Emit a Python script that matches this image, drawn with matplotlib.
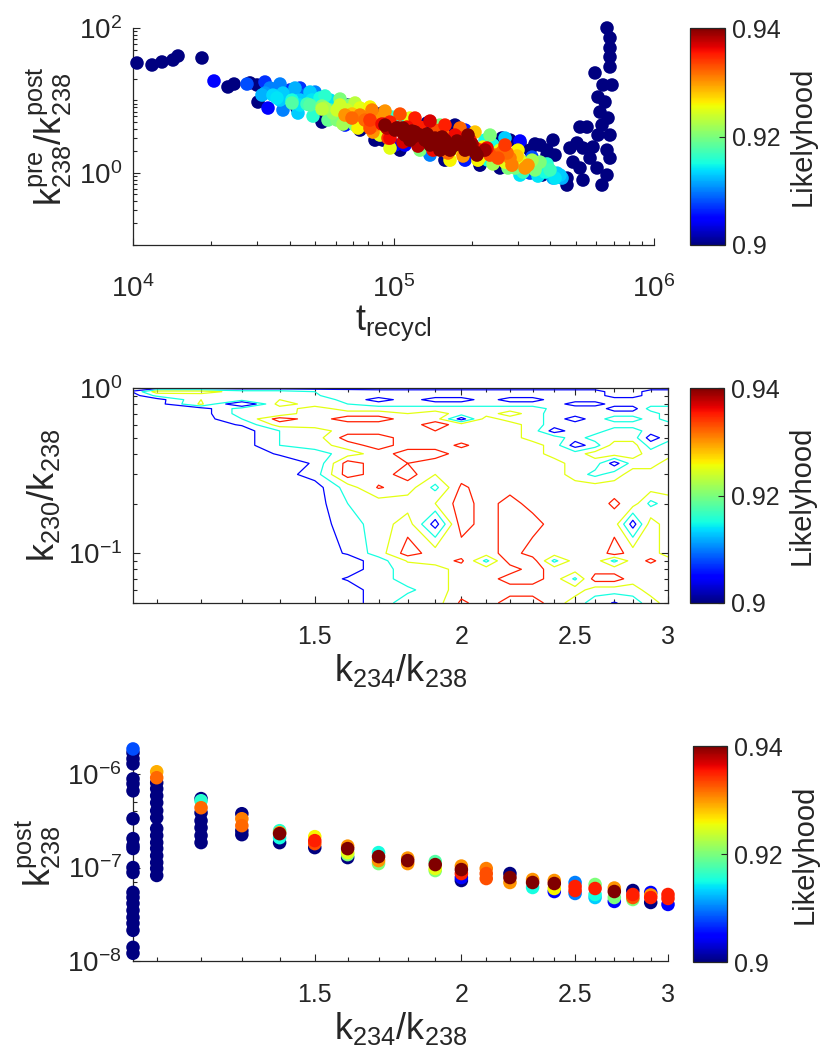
import numpy as np
import matplotlib
matplotlib.use("Agg")
import matplotlib.pyplot as plt
from matplotlib.colors import Normalize
from matplotlib.ticker import LogLocator, NullFormatter, FixedLocator, FixedFormatter
import matplotlib.cm as cm

plt.rcParams['font.family'] = ['Liberation Sans', 'DejaVu Sans']
plt.rcParams['mathtext.fontset'] = 'custom'
plt.rcParams['mathtext.rm'] = 'Liberation Sans'
plt.rcParams['mathtext.it'] = 'Liberation Sans'
plt.rcParams['mathtext.default'] = 'regular'

TXT = (0.15, 0.15, 0.15)

# ---------------- top panel data: t_recycl, k_pre/k_post, likelihood ----------------
top_t = [10360, 11830, 12920, 14240, 14890, 18400, 20460, 23150, 24430, 27390,
         29920, 30190, 28120, 32110, 34460, 37650, 40060, 40770, 42620, 45740,
         48650, 50850, 53170, 53170, 58580, 60700, 66300, 66890, 69280, 72430,
         74370, 77720, 81230, 86440, 90330, 91120, 94410, 98680, 103100, 108800,
         112700, 105900, 108800, 118800, 126400, 132100, 134500, 138100, 141800, 150800,
         154900, 164800, 169200, 176800, 188200, 196600, 209200, 214800, 220600, 230600,
         241000, 251900, 261000, 272800, 285100, 292700, 300600, 305900, 319800, 334200,
         340200, 358700, 371600, 388400, 391800, 409500, 424300, 416900,
         660100, 677800, 677800, 677800, 677800, 593700, 637200, 690100, 609600, 648500,
         620500, 666000, 631600, 519900, 553200, 609600, 677800, 506300, 475900, 533900,
         583300, 660100, 568100, 677800, 488700, 519900, 604300, 660100, 463500, 533900,
         631600, 388400, 398800, 365100, 398800, 435800, 443600, 463500,
         43750, 47800, 54580, 62300, 65140, 71120, 84900, 88700, 96950, 101300,
         115600, 120900, 144300, 157600, 172200, 180000, 193200, 205600, 224500, 245200,
         268000, 43750, 49970, 57060, 68080, 74370, 82680, 84900, 110700, 144300,
         188200, 256300, 305900,
         92770, 101300, 110700, 120900, 132100, 144300, 157600, 172200, 188200, 205600,
         196600, 115600, 126400, 138100, 150800, 164800, 96950, 105900, 180000, 214800,
         234800, 96950, 126400, 164800, 115600, 150800, 188200, 224500,
         33570, 36670, 40060, 43750, 47800, 52240, 57060, 62300, 65140, 74370,
         81230, 77720, 256300, 268000, 280100, 305900, 328300, 349300, 381500, 416900,
         105900, 157600, 214800, 74370, 52240, 172200, 280100, 334200, 365100,
         32110, 36670, 41870, 47810, 54580, 62330, 71160, 81230, 92770, 105900,
         120900, 138100, 157600, 180000, 205500, 234700, 267900, 305900, 349300,
         31270, 35710, 40770, 46560, 53170, 60700, 69290, 79110, 90330, 103100,
         117800, 134500, 153600, 175400, 200100, 228500, 260900, 297900, 340200, 388400,
         32980, 37650, 42990, 49090, 56050, 64000, 73080, 83430, 95260, 108800,
         124200, 141800, 161900, 184900, 211000, 241000, 275200, 314200, 358700, 409600]
top_r = [32.8, 30.8, 33.9, 36.1, 41.0, 38.5, 18.5, 15.3, 16.8, 16.8,
         16.3, 9.47, 17.4, 12.6, 11.8, 12.6, 11.1, 9.18, 7.82, 11.8,
         10.1, 9.18, 7.58, 5.01, 6.67, 5.34, 7.34, 8.61, 5.69, 6.67,
         4.85, 5.34, 4.14, 5.69, 6.67, 2.82, 4.14, 5.87, 4.14, 3.53,
         4.27, 5.87, 4.14, 3.11, 4.27, 3.01, 4.85, 1.75, 2.82, 2.57,
         3.53, 3.88, 2.57, 2.57, 2.26, 2.82, 1.75, 1.64, 2.26, 1.49,
         2.41, 1.59, 3.01, 1.87, 1.27, 1.16, 2.05, 2.57, 1.16, 0.986,
         1.64, 1.36, 0.926, 2.05, 1.16, 2.82, 0.986, 1.75,
         100.0, 72.8, 52.9, 39.7, 28.9, 23.9, 16.3, 16.3, 11.1, 9.47,
         6.88, 5.69, 4.55, 4.27, 4.27, 3.31, 3.31, 2.57, 2.19, 2.19,
         2.26, 2.05, 1.59, 1.59, 1.40, 1.16, 1.16, 0.926, 0.842, 0.790,
         0.674, 1.75, 1.02, 1.40, 1.09, 0.926, 0.842, 0.674,
         10.1, 8.61, 7.82, 6.67, 4.55, 4.55, 4.55, 3.31, 3.01, 2.41,
         4.55, 2.82, 3.88, 2.19, 3.31, 2.05, 3.31, 2.19, 2.05, 1.75,
         1.40, 14.8, 13.0, 10.1, 8.61, 7.82, 7.34, 2.82, 2.41, 2.19,
         1.49, 1.16, 0.926,
         4.55, 3.88, 3.31, 3.64, 2.82, 3.01, 2.82, 2.41, 2.05, 1.93,
         2.41, 2.82, 3.31, 2.41, 2.05, 2.05, 5.01, 4.14, 3.01, 2.05,
         1.75, 2.19, 2.05, 1.49, 5.69, 4.55, 3.88, 2.82,
         14.8, 10.1, 13.9, 8.61, 11.8, 10.8, 7.34, 8.61, 6.26, 6.26,
         5.34, 6.88, 2.05, 2.41, 1.59, 1.49, 1.27, 1.09, 1.02, 0.842,
         2.05, 1.49, 1.27, 3.88, 6.26, 4.55, 2.82, 2.05, 2.41,
         17.91, 16.80, 14.79, 13.02, 11.47, 10.42, 9.18, 8.08, 7.11, 6.46,
         5.69, 5.17, 4.55, 4.14, 3.64, 3.31, 3.01, 2.74, 2.49,
         11.84, 10.76, 10.09, 8.89, 8.34, 7.34, 6.46, 5.69, 4.70, 4.14,
         3.76, 3.42, 3.11, 2.74, 2.49, 2.19, 1.93, 1.70, 1.49, 1.32,
         7.82, 7.34, 6.67, 6.06, 5.34, 4.70, 4.14, 3.64, 3.01, 2.65,
         2.33, 2.05, 1.87, 1.70, 1.49, 1.32, 1.16, 1.02, 0.897, 0.842]
top_L = [0.90, 0.90, 0.90, 0.90, 0.90, 0.90, 0.905, 0.90, 0.90, 0.908,
         0.90, 0.90, 0.90, 0.911, 0.9135, 0.913, 0.911, 0.918, 0.90, 0.909,
         0.914, 0.914, 0.923, 0.90, 0.921, 0.92, 0.924, 0.90, 0.932, 0.925,
         0.922, 0.932, 0.933, 0.93, 0.90, 0.90, 0.938, 0.916, 0.938, 0.939,
         0.936, 0.915, 0.94, 0.94, 0.935, 0.94, 0.90, 0.91, 0.94, 0.94,
         0.932, 0.90, 0.935, 0.94, 0.94, 0.935, 0.94, 0.925, 0.926, 0.915,
         0.915, 0.933, 0.90, 0.932, 0.931, 0.92, 0.926, 0.90, 0.93, 0.908,
         0.908, 0.92, 0.90, 0.90, 0.915, 0.90, 0.913, 0.90,
         0.90, 0.90, 0.90, 0.90, 0.90, 0.90, 0.90, 0.90, 0.90, 0.90,
         0.90, 0.90, 0.90, 0.90, 0.90, 0.90, 0.90, 0.90, 0.90, 0.90,
         0.90, 0.90, 0.90, 0.90, 0.90, 0.90, 0.90, 0.90, 0.90, 0.90,
         0.90, 0.90, 0.90, 0.92, 0.917, 0.913, 0.912, 0.90,
         0.913, 0.918, 0.922, 0.919, 0.906, 0.92, 0.931, 0.925, 0.936, 0.905,
         0.926, 0.936, 0.933, 0.924, 0.936, 0.926, 0.94, 0.935, 0.939, 0.932,
         0.925, 0.907, 0.91, 0.914, 0.92, 0.925, 0.931, 0.90, 0.905, 0.90,
         0.906, 0.90, 0.914,
         0.94, 0.94, 0.94, 0.94, 0.94, 0.94, 0.94, 0.94, 0.94, 0.94,
         0.94, 0.94, 0.94, 0.94, 0.94, 0.94, 0.935, 0.935, 0.935, 0.935,
         0.933, 0.925, 0.92, 0.926, 0.925, 0.92, 0.906, 0.915,
         0.91, 0.913, 0.907, 0.914, 0.911, 0.915, 0.918, 0.924, 0.93, 0.931,
         0.934, 0.925, 0.925, 0.934, 0.931, 0.925, 0.93, 0.92, 0.915, 0.914,
         0.90, 0.90, 0.90, 0.90, 0.90, 0.90, 0.90, 0.90, 0.90,
         0.907, 0.91, 0.912, 0.913, 0.916, 0.92, 0.923, 0.926, 0.93, 0.933,
         0.935, 0.937, 0.935, 0.932, 0.928, 0.92, 0.913, 0.905, 0.90,
         0.912, 0.914, 0.915, 0.917, 0.92, 0.924, 0.928, 0.931, 0.936, 0.94,
         0.94, 0.94, 0.94, 0.94, 0.939, 0.936, 0.932, 0.928, 0.922, 0.916,
         0.905, 0.91, 0.913, 0.916, 0.919, 0.922, 0.926, 0.93, 0.934, 0.937,
         0.938, 0.936, 0.932, 0.93, 0.926, 0.922, 0.92, 0.917, 0.914, 0.912]

# ---------------- middle panel: likelihood grid ----------------
k234_grid = [1.05, 1.1, 1.2, 1.3, 1.4, 1.5, 1.6, 1.7, 1.8, 1.9, 2.0,
             2.1, 2.2, 2.3, 2.4, 2.5, 2.6, 2.7, 2.8, 2.9, 3.0]
k230_grid = [1.0, 0.95, 0.9, 0.85, 0.8, 0.75, 0.7, 0.65, 0.6, 0.55, 0.5, 0.45,
             0.4, 0.35, 0.3, 0.25, 0.2, 0.15, 0.1, 0.09, 0.08, 0.07, 0.06, 0.05]
like_grid = [
 [.90,.90,.90,.90,.90,.90,.90,.90,.90,.90,.90,.90,.90,.90,.90,.90,.90,.90,.90,.90,.90],
 [.906,.93,.93,.92,.92,.915,.912,.91,.91,.91,.91,.91,.91,.91,.91,.91,.91,.90,.90,.91,.91],
 [.90,.918,.92,.92,.92,.916,.91,.91,.91,.91,.91,.91,.91,.91,.91,.91,.91,.90,.90,.91,.91],
 [.90,.90,.925,.92,.925,.92,.912,.90,.91,.90,.90,.91,.90,.90,.91,.91,.91,.91,.91,.91,.91],
 [.90,.90,.927,.89,.93,.92,.915,.91,.91,.91,.91,.91,.91,.91,.91,.90,.90,.91,.91,.91,.91],
 [.90,.90,.90,.92,.92,.93,.92,.92,.92,.92,.92,.92,.92,.92,.912,.912,.912,.90,.90,.92,.92],
 [.90,.90,.90,.92,.916,.935,.93,.93,.925,.93,.92,.92,.93,.92,.91,.91,.91,.91,.91,.91,.92],
 [.90,.90,.90,.915,.94,.93,.94,.94,.93,.93,.90,.93,.92,.92,.91,.90,.91,.92,.92,.91,.92],
 [.90,.90,.90,.906,.93,.93,.93,.93,.93,.94,.93,.93,.93,.92,.91,.91,.91,.91,.91,.91,.91],
 [.90,.90,.90,.90,.915,.92,.93,.93,.93,.935,.93,.93,.93,.92,.90,.91,.91,.92,.92,.91,.91],
 [.90,.90,.90,.90,.915,.92,.94,.94,.93,.93,.93,.93,.93,.92,.92,.91,.92,.92,.92,.90,.91],
 [.90,.90,.90,.90,.915,.92,.93,.94,.93,.93,.937,.93,.93,.93,.92,.90,.91,.93,.93,.91,.92],
 [.90,.90,.90,.90,.906,.91,.92,.93,.94,.94,.93,.93,.93,.93,.92,.92,.93,.93,.93,.92,.92],
 [.90,.90,.90,.90,.90,.906,.94,.93,.935,.93,.93,.93,.93,.93,.93,.92,.92,.90,.92,.92,.93],
 [.90,.90,.90,.90,.90,.91,.94,.93,.94,.925,.93,.93,.93,.93,.93,.92,.912,.92,.93,.93,.93],
 [.90,.90,.90,.90,.90,.90,.92,.936,.93,.912,.937,.93,.93,.93,.93,.93,.93,.93,.93,.93,.93],
 [.90,.90,.90,.90,.90,.90,.915,.92,.92,.925,.94,.93,.94,.93,.927,.93,.93,.937,.93,.912,.92],
 [.90,.90,.90,.90,.90,.90,.91,.92,.93,.90,.94,.93,.94,.94,.93,.93,.93,.93,.90,.93,.92],
 [.90,.90,.90,.90,.90,.90,.906,.92,.94,.93,.93,.93,.94,.93,.93,.93,.927,.94,.93,.93,.92],
 [.90,.90,.90,.90,.90,.90,.90,.91,.926,.93,.937,.912,.94,.94,.912,.93,.93,.912,.93,.937,.93],
 [.90,.90,.90,.90,.90,.90,.90,.91,.92,.92,.93,.93,.93,.94,.93,.93,.93,.93,.93,.93,.93],
 [.90,.90,.90,.90,.90,.90,.906,.91,.92,.92,.93,.93,.94,.94,.93,.913,.94,.94,.93,.926,.93],
 [.90,.90,.90,.90,.90,.90,.90,.91,.913,.92,.93,.93,.93,.93,.93,.93,.92,.92,.92,.93,.93],
 [.90,.90,.90,.90,.90,.90,.90,.91,.92,.92,.937,.93,.94,.94,.93,.92,.91,.904,.91,.92,.93],
]
contour_levels = [0.905, 0.915, 0.925, 0.935]

# ---------------- bottom panel data: k234/k238, k_post, likelihood ----------------
bot_x = ([1.05] * 22 + [1.1] * 16 + [1.2] * 8 + [1.3] * 5 + [1.4] * 5 + [1.5] * 4
         + [1.6] * 5 + [1.7] * 4 + [1.8] * 3 + [1.9] * 4 + [2.0] * 5 + [2.1] * 3
         + [2.2] * 3 + [2.3] * 3 + [2.4] * 4 + [2.5] * 4 + [2.6] * 4 + [2.7] * 4
         + [2.8] * 4 + [2.9] * 4 + [3.0] * 3)
bot_k = [1.86e-6, 1.69e-6, 1.46e-6, 1.29e-6, 8.9e-7, 7.88e-7, 6.63e-7, 3.33e-7, 2.04e-7, 1.72e-7,
         1.60e-7, 1.0e-7, 8.86e-8, 5.42e-8, 4.79e-8, 4.13e-8, 3.48e-8, 2.93e-8, 2.53e-8, 2.13e-8,
         1.40e-8, 1.21e-8,
         1.06e-6, 9.15e-7, 8.08e-7, 6.97e-7, 5.87e-7, 4.94e-7, 4.06e-7, 3.42e-7, 2.61e-7, 2.20e-7,
         1.85e-7, 1.60e-7, 1.34e-7, 1.13e-7, 9.77e-8, 8.23e-8,
         5.47e-7, 5.19e-7, 4.37e-7, 3.86e-7, 3.17e-7, 2.67e-7, 2.20e-7, 1.85e-7,
         3.77e-7, 3.33e-7, 2.81e-7, 2.48e-7, 2.25e-7,
         2.306e-7, 2.482e-7, 2.362e-7, 2.090e-7, 1.848e-7,
         1.941e-7, 2.142e-7, 1.804e-7, 1.635e-7,
         1.595e-7, 1.696e-7, 1.446e-7, 1.376e-7, 1.279e-7,
         1.310e-7, 1.446e-7, 1.188e-7, 1.103e-7,
         1.188e-7, 1.263e-7, 1.103e-7,
         1.076e-7, 1.159e-7, 9.29e-8, 9.76e-8,
         9.52e-8, 1.038e-7, 7.82e-8, 7.27e-8, 8.63e-8,
         8.63e-8, 9.76e-8, 7.63e-8,
         7.82e-8, 8.63e-8, 6.92e-8,
         6.92e-8, 7.45e-8, 6.12e-8,
         6.75e-8, 7.27e-8, 5.97e-8, 5.54e-8,
         6.27e-8, 6.92e-8, 5.68e-8, 5.28e-8,
         5.97e-8, 6.59e-8, 5.15e-8, 4.78e-8,
         5.54e-8, 6.04e-8, 4.78e-8, 4.34e-8,
         5.15e-8, 5.68e-8, 4.55e-8, 4.78e-8,
         4.78e-8, 5.41e-8, 5.09e-8, 4.23e-8,
         4.67e-8, 5.15e-8, 4.03e-8]
bot_L = [0.908] + [0.90] * 21 + \
        [0.929, 0.932] + [0.90] * 14 + \
        [0.90, 0.916, 0.932, 0.90, 0.90, 0.90, 0.90, 0.90] + \
        [0.90, 0.931, 0.932, 0.90, 0.90] + \
        [0.94, 0.916, 0.93, 0.915, 0.90] + \
        [0.935, 0.926, 0.933, 0.90] + \
        [0.94, 0.93, 0.925, 0.92, 0.90] + \
        [0.94, 0.915, 0.93, 0.92] + \
        [0.94, 0.93, 0.93] + \
        [0.94, 0.918, 0.92, 0.925] + \
        [0.94, 0.93, 0.905, 0.90, 0.935] + \
        [0.933, 0.931, 0.933] + \
        [0.94, 0.90, 0.93] + \
        [0.94, 0.93, 0.915] + \
        [0.94, 0.93, 0.926, 0.905] + \
        [0.935, 0.91, 0.935, 0.91] + \
        [0.935, 0.92, 0.915, 0.913] + \
        [0.94, 0.93, 0.92, 0.905] + \
        [0.935, 0.90, 0.92, 0.933] + \
        [0.935, 0.905, 0.93, 0.90] + \
        [0.935, 0.935, 0.905]

# ---------------- figure ----------------
W, H = 822, 1057
fig = plt.figure(figsize=(W / 100, H / 100), dpi=100)
cmap = plt.get_cmap('jet')
TICK_FS = 18
LOG_FS = 20
LAB_FS = 26
CB_FS = 21


def mknorm():
    return Normalize(0.9, 0.94)


def frac(l, t, r, b):
    return [l / W, 1 - b / H, (r - l) / W, (b - t) / H]


def style_axes(ax, box):
    for s in ax.spines.values():
        s.set_color(TXT)
        s.set_linewidth(0.9)
    if not box:
        ax.spines['top'].set_visible(False)
        ax.spines['right'].set_visible(False)
    ax.tick_params(which='both', direction='in', colors=TXT, labelsize=TICK_FS,
                   top=box, right=box, width=0.8)
    ax.tick_params(which='major', length=5)
    ax.tick_params(which='minor', length=3)


def add_cbar(rect):
    cax = fig.add_axes(frac(*rect))
    sm = cm.ScalarMappable(norm=mknorm(), cmap=cmap)
    cb = fig.colorbar(sm, cax=cax)
    cax.yaxis.set_major_locator(FixedLocator([0.9, 0.92, 0.94]))
    cax.yaxis.set_major_formatter(FixedFormatter(['0.9', '0.92', '0.94']))
    cax.yaxis.set_minor_locator(FixedLocator([]))
    cax.tick_params(direction='in', length=4, width=0.8, labelsize=TICK_FS,
                    colors=TXT, pad=5)
    cb.outline.set_edgecolor(TXT)
    cb.outline.set_linewidth(0.9)
    cb.set_label('Likelyhood', fontsize=CB_FS, color=TXT, labelpad=6)
    return cb


def kscale_x(ax):
    ax.set_xscale('log')
    ax.set_xlim(1.05, 3.0)
    ax.xaxis.set_major_locator(FixedLocator([1.5, 2, 2.5, 3]))
    ax.xaxis.set_major_formatter(FixedFormatter(['1.5', '2', '2.5', '3']))
    minors = [1.1, 1.2, 1.3, 1.4, 1.6, 1.7, 1.8, 1.9, 2.1, 2.2, 2.3, 2.4,
              2.6, 2.7, 2.8, 2.9]
    ax.xaxis.set_minor_locator(FixedLocator(minors))
    ax.xaxis.set_minor_formatter(NullFormatter())


# --- top panel
ax1 = fig.add_axes(frac(133, 28, 654, 245))
order = np.argsort(top_L, kind='stable')
ax1.scatter(np.array(top_t)[order], np.array(top_r)[order], c=np.array(top_L)[order],
            cmap=cmap, norm=mknorm(), s=95, edgecolors='none', clip_on=False, zorder=3)
ax1.set_xscale('log')
ax1.set_yscale('log')
ax1.set_xlim(1e4, 1e6)
ax1.set_ylim(1e-1, 1e2)
ax1.xaxis.set_major_locator(FixedLocator([1e4, 1e5, 1e6]))
ax1.yaxis.set_major_locator(FixedLocator([1e0, 1e2]))
ax1.xaxis.set_minor_locator(LogLocator(base=10, subs=np.arange(2, 10)))
ax1.yaxis.set_minor_locator(LogLocator(base=10, subs=np.arange(1, 10)))
ax1.xaxis.set_minor_formatter(NullFormatter())
ax1.yaxis.set_minor_formatter(NullFormatter())
style_axes(ax1, box=False)
ax1.tick_params(axis='both', labelsize=LOG_FS)
ax1.tick_params(axis='x', pad=22)
ax1.tick_params(axis='y', pad=8)
ax1.set_xlabel(r'$t_{recycl}$', fontsize=LAB_FS, color=TXT, labelpad=0)
ax1.set_ylabel(r'$k^{pre}_{238}/k^{post}_{238}$', fontsize=LAB_FS, color=TXT, labelpad=3)
add_cbar((690, 28, 725, 245))

# --- middle panel
ax2 = fig.add_axes(frac(133, 388, 668, 603))
Xg = np.array(k234_grid)
Yg = np.array(k230_grid)[::-1]
Zg = np.array(like_grid)[::-1]
ax2.contour(Xg, Yg, Zg, levels=contour_levels, cmap=cmap, norm=mknorm(), linewidths=0.9)
ax2.set_yscale('log')
kscale_x(ax2)
ax2.set_ylim(0.05, 1.0)
ax2.yaxis.set_major_locator(FixedLocator([0.1, 1.0]))
ax2.yaxis.set_minor_locator(LogLocator(base=10, subs=np.arange(2, 10)))
ax2.yaxis.set_minor_formatter(NullFormatter())
style_axes(ax2, box=True)
ax2.tick_params(axis='y', labelsize=LOG_FS, pad=8)
ax2.tick_params(axis='x', pad=16)
ax2.set_xlabel(r'$k_{234}/k_{238}$', fontsize=LAB_FS, color=TXT, labelpad=2)
ax2.set_ylabel(r'$k_{230}/k_{238}$', fontsize=LAB_FS, color=TXT, labelpad=4)
add_cbar((690, 388, 724, 603))

# --- bottom panel
ax3 = fig.add_axes(frac(133, 746, 668, 961))
order = np.argsort(bot_L, kind='stable')
ax3.scatter(np.array(bot_x)[order], np.array(bot_k)[order], c=np.array(bot_L)[order],
            cmap=cmap, norm=mknorm(), s=95, edgecolors='none', clip_on=False, zorder=3)
ax3.set_yscale('log')
kscale_x(ax3)
ax3.set_ylim(1e-8, 2e-6)
ax3.yaxis.set_major_locator(FixedLocator([1e-8, 1e-7, 1e-6]))
ax3.yaxis.set_minor_locator(LogLocator(base=10, subs=np.arange(2, 10)))
ax3.yaxis.set_minor_formatter(NullFormatter())
style_axes(ax3, box=False)
ax3.tick_params(axis='y', labelsize=LOG_FS, pad=8)
ax3.tick_params(axis='x', pad=16)
ax3.set_xlabel(r'$k_{234}/k_{238}$', fontsize=LAB_FS, color=TXT, labelpad=2)
ax3.set_ylabel(r'$k^{post}_{238}$', fontsize=LAB_FS, color=TXT, labelpad=3)
add_cbar((693, 746, 727, 962))

fig.savefig('out.png', dpi=100)
